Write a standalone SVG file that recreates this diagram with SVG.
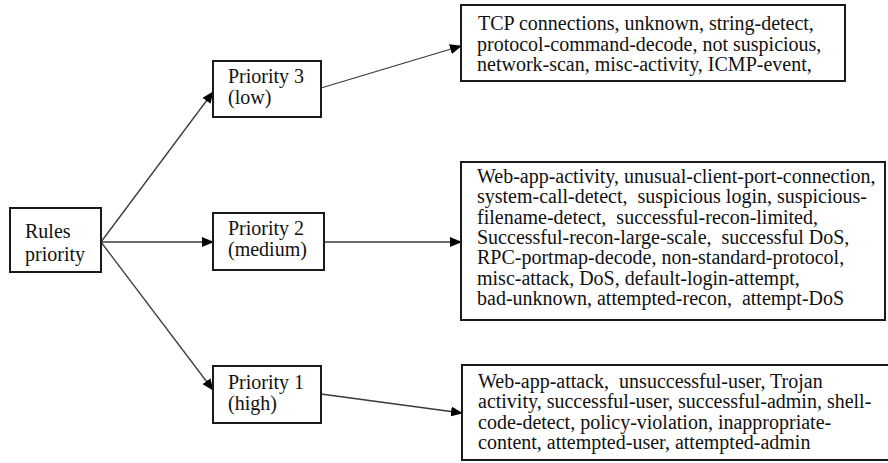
<svg xmlns="http://www.w3.org/2000/svg" width="888" height="463" viewBox="0 0 888 463">
<defs>
<style>
.box{fill:#fff;stroke:#1a1a1a;stroke-width:2}
.t{font-size:20px;fill:#111}
.c{stroke:#3a3a3a;stroke-width:1.3;fill:none}
</style>
<marker id="ah" markerUnits="userSpaceOnUse" markerWidth="12" markerHeight="10" refX="11" refY="5" orient="auto">
<path d="M0,0 L12,5 L0,10 z" fill="#000"/>
</marker>
</defs>
<rect width="888" height="463" fill="#fff"/>
<g id="connectors">
<line class="c" x1="101" y1="242" x2="213" y2="92" marker-end="url(#ah)"/>
<line class="c" x1="101" y1="242" x2="213" y2="242" marker-end="url(#ah)"/>
<line class="c" x1="101" y1="242" x2="213" y2="390" marker-end="url(#ah)"/>
<line class="c" x1="321" y1="88" x2="461" y2="46" marker-end="url(#ah)"/>
<line class="c" x1="324" y1="242" x2="461" y2="242" marker-end="url(#ah)"/>
<line class="c" x1="321" y1="394" x2="462" y2="413" marker-end="url(#ah)"/>
</g>
<g font-family="'Liberation Serif', Tinos, 'Times New Roman', Times, serif">
<g id="rules">
<rect class="box" x="10" y="208" width="91" height="64"/>
<text class="t" x="25" y="238">Rules</text>
<text class="t" x="25" y="261">priority</text>
</g>
<g id="p3">
<rect class="box" x="213" y="61" width="108" height="56"/>
<text class="t" x="228" y="83">Priority 3</text>
<text class="t" x="228" y="104">(low)</text>
</g>
<g id="p2">
<rect class="box" x="213" y="213" width="111" height="57"/>
<text class="t" x="228" y="235">Priority 2</text>
<text class="t" x="228" y="256">(medium)</text>
</g>
<g id="p1">
<rect class="box" x="213" y="366" width="108" height="57"/>
<text class="t" x="228" y="389">Priority 1</text>
<text class="t" x="228" y="410">(high)</text>
</g>
<g id="low-list">
<rect class="box" x="461" y="5" width="384" height="76"/>
<text class="t" x="478" y="30">TCP connections, unknown, string-detect,</text>
<text class="t" x="477" y="51">protocol-command-decode, not suspicious,</text>
<text class="t" x="477" y="71">network-scan, misc-activity, ICMP-event,</text>
</g>
<g id="medium-list">
<rect class="box" x="461" y="162" width="424" height="158"/>
<text class="t" x="477" y="183">Web-app-activity, unusual-client-port-connection,</text>
<text class="t" x="477" y="203" xml:space="preserve">system-call-detect,  suspicious login, suspicious-</text>
<text class="t" x="477" y="224" xml:space="preserve">filename-detect,  successful-recon-limited,</text>
<text class="t" x="477" y="244" xml:space="preserve">Successful-recon-large-scale,  successful DoS,</text>
<text class="t" x="477" y="264">RPC-portmap-decode, non-standard-protocol,</text>
<text class="t" x="477" y="285">misc-attack, DoS, default-login-attempt,</text>
<text class="t" x="477" y="305" xml:space="preserve">bad-unknown, attempted-recon,  attempt-DoS</text>
</g>
<g id="high-list">
<rect class="box" x="462" y="365" width="430" height="95"/>
<text class="t" x="478" y="388" xml:space="preserve">Web-app-attack,  unsuccessful-user, Trojan</text>
<text class="t" x="478" y="408">activity, successful-user, successful-admin, shell-</text>
<text class="t" x="478" y="429">code-detect, policy-violation, inappropriate-</text>
<text class="t" x="478" y="449">content, attempted-user, attempted-admin</text>
</g>
</g>
</svg>
